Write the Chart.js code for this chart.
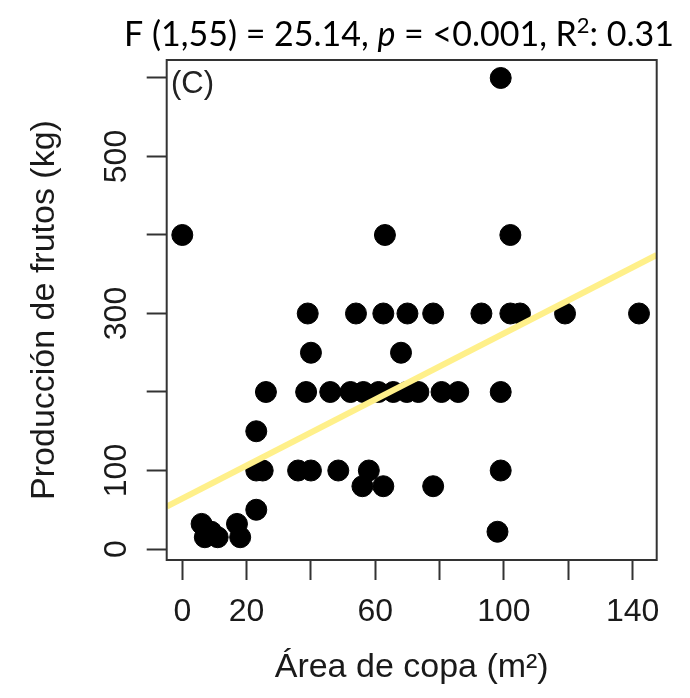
<!DOCTYPE html>
<html>
<head>
<meta charset="utf-8">
<script src="https://cdn.jsdelivr.net/npm/chart.js@4/dist/chart.umd.min.js"></script>
<style>
  html, body { margin: 0; padding: 0; background: #fff; }
</style>
</head>
<body>
<canvas id="chart" width="690" height="698"></canvas>
<script>
// crown area (m2) and fruit yield (kg)
const areaCopa = [
  99,
  0, 63, 102,
  39, 54, 62.5, 70, 78, 93, 102, 105, 119, 142,
  40, 68,
  26, 38.5, 46, 52.3, 56.3, 61, 65.6, 69.8, 73.4, 80.6, 85.8, 99,
  23,
  23, 25, 36, 40, 48.5, 58, 99,
  56, 62.5, 78,
  23,
  98,
  6, 7, 9, 11, 17, 18
];
const produccion = [
  600,
  400, 400, 400,
  300, 300, 300, 300, 300, 300, 300, 300, 300, 300,
  250, 250,
  200, 200, 200, 200, 200, 200, 200, 200, 200, 200, 200, 200,
  150,
  100, 100, 100, 100, 100, 100, 100,
  80, 80, 80,
  50,
  22,
  32, 15, 22, 15, 32, 15
];

// fitted regression line, end points at the plot edges
const fitX = [-4.85, 147.5];
const fitY = [54, 374.5];

const xTicks = [0, 20, 40, 60, 80, 100, 120, 140];
const xTickLabels = ["0", "20", "", "60", "", "100", "", "140"];
const yTicks = [0, 100, 200, 300, 400, 500, 600];
const yTickLabels = ["0", "100", "", "300", "", "500", ""];

const points = areaCopa.map((x, i) => ({ x: x, y: produccion[i] }));
const fitLine = fitX.map((x, i) => ({ x: x, y: fitY[i] }));

const ink = "#1a1a1a";

const boxAndText = {
  id: "boxAndText",
  afterDraw(chart) {
    const ctx = chart.ctx;
    const a = chart.chartArea;
    ctx.save();
    ctx.strokeStyle = "#333";
    ctx.lineWidth = 2;
    ctx.strokeRect(a.left, a.top, a.right - a.left, a.bottom - a.top);

    // panel letter
    ctx.fillStyle = "#222";
    ctx.font = "31px 'Liberation Sans'";
    ctx.textAlign = "left";
    ctx.textBaseline = "alphabetic";
    ctx.fillText("(C)", 171, 93);

    // header with italic p and superscript 2
    const parts = [
      { t: "F (1,55) = 25.14, ", f: "34px Lato", dy: 0 },
      { t: "p", f: "italic 34px Lato", dy: 0 },
      { t: " = <0.001, R", f: "34px Lato", dy: 0 },
      { t: "2", f: "22px Lato", dy: -13 },
      { t: ": 0.31", f: "34px Lato", dy: 0 }
    ];
    let total = 0;
    parts.forEach(p => { ctx.font = p.f; total += ctx.measureText(p.t).width; });
    let x = 399 - total / 2;
    ctx.fillStyle = "#000";
    parts.forEach(p => {
      ctx.font = p.f;
      ctx.fillText(p.t, x, 46 + p.dy);
      x += ctx.measureText(p.t).width;
    });
    ctx.restore();
  }
};

new Chart(document.getElementById("chart"), {
  type: "scatter",
  data: {
    datasets: [
      {
        data: fitLine,
        showLine: true,
        borderColor: "#fff08a",
        borderWidth: 6,
        pointRadius: 0,
        order: 0
      },
      {
        data: points,
        backgroundColor: "#000",
        borderColor: "#000",
        borderWidth: 1,
        pointRadius: 10.5,
        order: 1
      }
    ]
  },
  options: {
    responsive: false,
    animation: false,
    devicePixelRatio: 1,
    layout: { padding: { left: 0, right: 33.3, top: 60, bottom: 0 } },
    plugins: { legend: { display: false }, tooltip: { enabled: false }, title: { display: false } },
    scales: {
      x: {
        type: "linear",
        position: "bottom",
        min: -4.85,
        max: 147.5,
        afterBuildTicks: s => { s.ticks = xTicks.map(v => ({ value: v })); },
        afterFit: s => { s.height = 138; },
        border: { display: false },
        grid: { drawOnChartArea: false, drawTicks: true, tickLength: 20, tickColor: "#333", tickWidth: 2 },
        ticks: {
          autoSkip: false,
          maxRotation: 0,
          padding: 16,
          color: ink,
          font: { family: "'Liberation Sans'", size: 32, lineHeight: 1 },
          callback: v => xTickLabels[xTicks.indexOf(v)]
        },
        title: {
          display: true,
          text: "Área de copa (m²)",
          color: ink,
          font: { family: "'Liberation Sans'", size: 34, lineHeight: 1 },
          padding: { top: 0, bottom: 13 }
        }
      },
      y: {
        type: "linear",
        position: "left",
        min: -14,
        max: 622.9,
        afterBuildTicks: s => { s.ticks = yTicks.map(v => ({ value: v })); },
        afterFit: s => { s.width = 166.7; },
        border: { display: false },
        grid: { drawOnChartArea: false, drawTicks: true, tickLength: 20, tickColor: "#333", tickWidth: 2 },
        ticks: {
          autoSkip: false,
          minRotation: 90,
          maxRotation: 90,
          crossAlign: "center",
          padding: 3,
          color: ink,
          font: { family: "'Liberation Sans'", size: 32, lineHeight: 1 },
          callback: v => yTickLabels[yTicks.indexOf(v)]
        },
        title: {
          display: true,
          text: "Producción de frutos (kg)",
          color: ink,
          font: { family: "'Liberation Sans'", size: 34, lineHeight: 1 },
          padding: { top: 28, bottom: 0 }
        }
      }
    }
  },
  plugins: [boxAndText]
});
</script>
</body>
</html>
